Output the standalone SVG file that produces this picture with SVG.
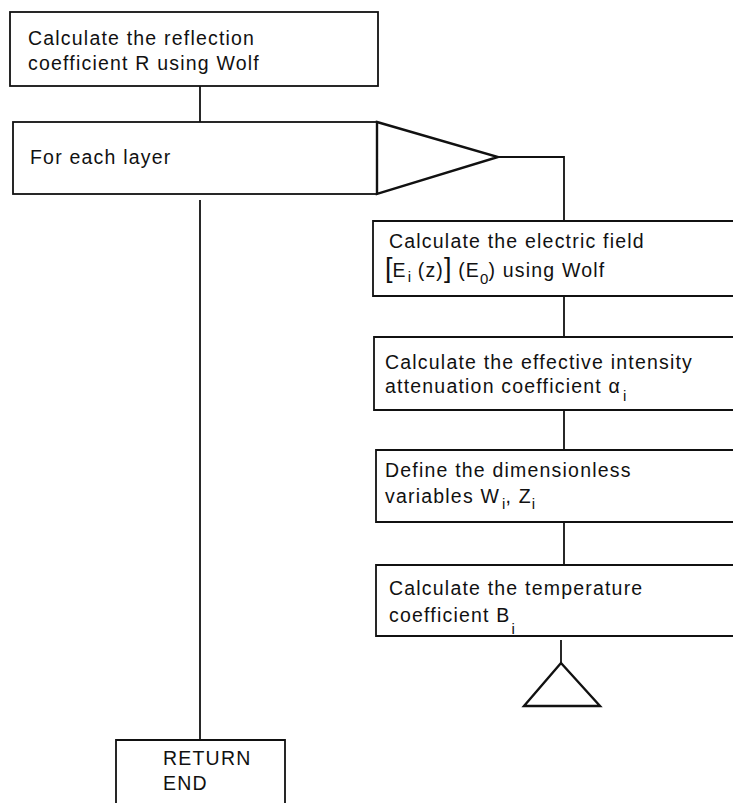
<svg xmlns="http://www.w3.org/2000/svg" width="733" height="803" viewBox="0 0 733 803">
<style>
.box{fill:#fff;stroke:#111;stroke-width:1.8}
.tri{fill:#fff;stroke:#111;stroke-width:2.4;stroke-linejoin:miter}
.ln{fill:none;stroke:#111;stroke-width:1.8}
text{font-family:"Liberation Sans",Arial,sans-serif;font-size:19.5px;letter-spacing:1.2px;fill:#111}
.sub{font-size:15px;letter-spacing:0}
.br{font-size:27px;letter-spacing:0}
</style>
<rect width="733" height="803" fill="#fff"/>
<g id="connectors">
<line class="ln" x1="200" y1="86" x2="200" y2="122"/>
<polyline class="ln" points="498,157 564,157 564,221"/>
<line class="ln" x1="564" y1="296" x2="564" y2="337"/>
<line class="ln" x1="564" y1="410" x2="564" y2="450"/>
<line class="ln" x1="564" y1="522" x2="564" y2="565"/>
<line class="ln" x1="200" y1="200" x2="200" y2="740"/>
<line class="ln" x1="561" y1="640" x2="561" y2="663"/>
</g>
<g id="n1">
<rect class="box" x="10" y="12" width="368" height="74"/>
<text x="28" y="45">Calculate the reflection</text>
<text x="28" y="70">coefficient R using Wolf</text>
</g>
<g id="n2">
<rect class="box" x="13" y="122" width="364" height="72"/>
<polygon class="tri" points="377,122 498,157 377,194"/>
<text x="30" y="164">For each layer</text>
</g>
<g id="n3">
<path class="box" d="M735,221 H373 V296 H735"/>
<text x="389" y="248">Calculate the electric field</text>
<text x="385" y="277"><tspan class="br">[</tspan><tspan>E</tspan><tspan class="sub" dx="1" dy="5">i</tspan><tspan dy="-5"> (z)</tspan><tspan class="br">]</tspan><tspan> (E</tspan><tspan class="sub" dy="7">0</tspan><tspan dy="-7">) using Wolf</tspan></text>
</g>
<g id="n4">
<path class="box" d="M735,337 H374 V410 H735"/>
<text x="385" y="369">Calculate the effective intensity</text>
<text x="385" y="393">attenuation coefficient  α<tspan class="sub" dx="2" dy="8">i</tspan></text>
</g>
<g id="n5">
<path class="box" d="M735,450 H376 V522 H735"/>
<text x="385" y="477">Define the dimensionless</text>
<text x="385" y="503">variables W<tspan class="sub" dx="2" dy="6">i</tspan><tspan dy="-6">, Z</tspan><tspan class="sub" dy="6">i</tspan></text>
</g>
<g id="n6">
<path class="box" d="M735,565 H376 V636 H735"/>
<text x="389" y="595">Calculate the temperature</text>
<text x="389" y="622">coefficient B<tspan class="sub" dx="1" dy="12">i</tspan></text>
</g>
<g id="n7">
<polygon class="tri" points="561,663 524,706 600,706"/>
</g>
<g id="n8">
<path class="box" d="M116,805 V740 H285 V805"/>
<text x="163" y="765">RETURN</text>
<text x="163" y="790">END</text>
</g>
</svg>
